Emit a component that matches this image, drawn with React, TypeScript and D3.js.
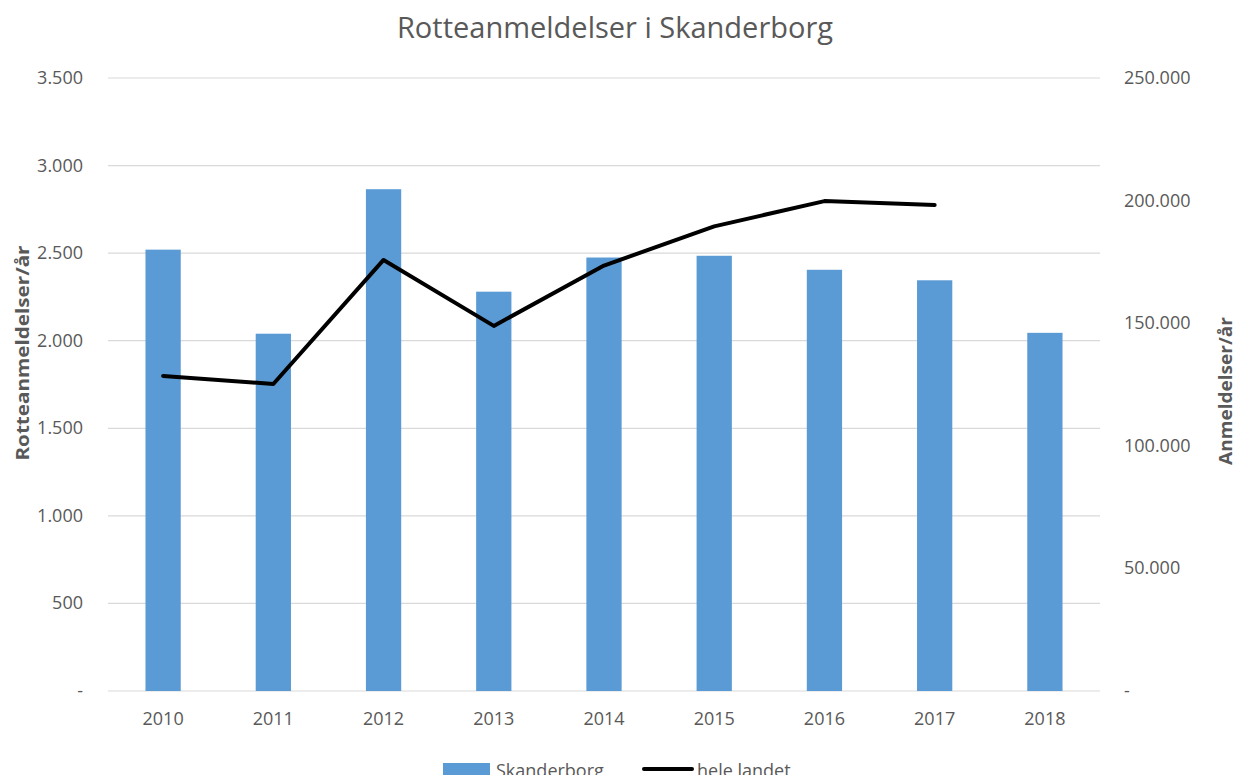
import * as React from 'react';
import * as d3 from 'd3';

const years = ['2010', '2011', '2012', '2013', '2014', '2015', '2016', '2017', '2018'];
const skanderborg = [2520, 2040, 2865, 2280, 2475, 2485, 2405, 2345, 2045];
const heleLandet = [128500, 125200, 175800, 148900, 173500, 189500, 199800, 198200];
const leftTicks = [0, 500, 1000, 1500, 2000, 2500, 3000, 3500];
const rightTicks = [0, 50000, 100000, 150000, 200000, 250000];

const W = 1237;
const H = 775;
const FONT = "'Open Sans', 'Liberation Sans', sans-serif";
const GRAY = '#595959';

const fmt = (v: number) => (v === 0 ? '-' : d3.format(',')(v).replace(/,/g, '.'));

const App: React.FC = () => {
  const x = d3.scaleBand<string>().domain(years).range([108, 1100]).paddingInner(0.68).paddingOuter(0.34);
  const yL = d3.scaleLinear().domain([0, 3500]).range([691, 78]);
  const yR = d3.scaleLinear().domain([0, 250000]).range([691, 78]);

  const line = d3
    .line<number>()
    .x((_, i) => (x(years[i]) as number) + x.bandwidth() / 2)
    .y((d) => yR(d));

  return (
    <svg width={W} height={H} style={{ position: 'absolute', left: 0, top: 0, background: '#fff' }} fontFamily={FONT}>
      <text x={615} y={38} textAnchor="middle" fontSize={29} fill={GRAY}>
        Rotteanmeldelser i Skanderborg
      </text>

      {leftTicks.map((t) => (
        <g key={t}>
          <line x1={108} x2={1100} y1={yL(t)} y2={yL(t)} stroke="#d9d9d9" strokeWidth={1.2} />
          <text x={83} y={yL(t) + 6} textAnchor="end" fontSize={18} fill={GRAY}>
            {fmt(t)}
          </text>
        </g>
      ))}

      {rightTicks.map((t) => (
        <text key={t} x={1124} y={yR(t) + 6} fontSize={18} fill={GRAY}>
          {fmt(t)}
        </text>
      ))}

      {skanderborg.map((v, i) => (
        <rect key={years[i]} x={x(years[i])} y={yL(v)} width={x.bandwidth()} height={yL(0) - yL(v)} fill="#5b9bd5" />
      ))}

      <path d={line(heleLandet) || ''} fill="none" stroke="#000" strokeWidth={4} strokeLinejoin="round" strokeLinecap="round" />

      {years.map((yr) => (
        <text key={yr} x={(x(yr) as number) + x.bandwidth() / 2} y={725} textAnchor="middle" fontSize={18} fill={GRAY}>
          {yr}
        </text>
      ))}

      <text
        transform="translate(29,353) rotate(-90)"
        textAnchor="middle"
        fontSize={18}
        fontWeight="bold"
        fill={GRAY}
        textLength={215}
        lengthAdjust="spacingAndGlyphs"
      >
        Rotteanmeldelser/år
      </text>
      <text
        transform="translate(1232,391) rotate(-90)"
        textAnchor="middle"
        fontSize={18}
        fontWeight="bold"
        fill={GRAY}
        textLength={148}
        lengthAdjust="spacingAndGlyphs"
      >
        Anmeldelser/år
      </text>

      <rect x={443} y={763} width={47} height={12} fill="#5b9bd5" />
      <text x={496} y={777} fontSize={18} fill={GRAY}>
        Skanderborg
      </text>
      <line x1={644} x2={692} y1={769} y2={769} stroke="#000" strokeWidth={4} strokeLinecap="round" />
      <text x={697} y={777} fontSize={18} fill={GRAY}>
        hele landet
      </text>
    </svg>
  );
};

export default App;
